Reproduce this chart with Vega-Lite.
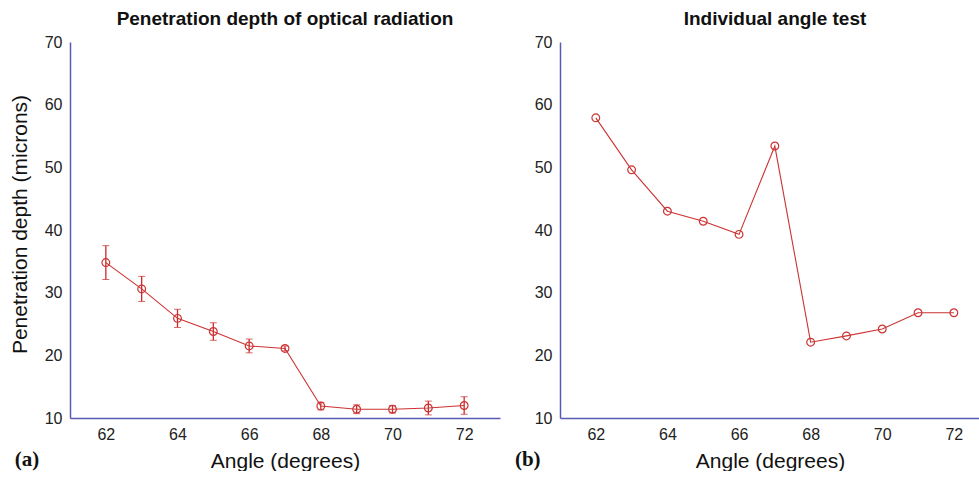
{
  "$schema": "https://vega.github.io/schema/vega-lite/v6.json",
  "background": "white",
  "padding": {"left": 9, "top": 10, "right": 0, "bottom": 0},
  "spacing": 14,
  "config": {
    "view": {"stroke": null},
    "font": "Liberation Sans",
    "axis": {
      "domainColor": "#5a5ab4",
      "domainWidth": 1.5,
      "ticks": false,
      "grid": false,
      "labelFont": "Liberation Sans",
      "labelFontSize": 16,
      "labelColor": "#222222",
      "labelPadding": 8,
      "titleFont": "Liberation Sans",
      "titleFontSize": 21,
      "titleFontWeight": "normal",
      "titleColor": "#111111"
    },
    "title": {"font": "Liberation Sans", "fontSize": 19, "fontWeight": "bold", "color": "#111111", "offset": 5}
  },
  "datasets": {
    "depth": [
      {"angle": 62, "depth": 34.8, "err": 2.7},
      {"angle": 63, "depth": 30.6, "err": 2.0},
      {"angle": 64, "depth": 25.9, "err": 1.45},
      {"angle": 65, "depth": 23.8, "err": 1.4},
      {"angle": 66, "depth": 21.5, "err": 1.1},
      {"angle": 67, "depth": 21.1, "err": 0.4},
      {"angle": 68, "depth": 11.9, "err": 0.6},
      {"angle": 69, "depth": 11.4, "err": 0.7},
      {"angle": 70, "depth": 11.4, "err": 0.6},
      {"angle": 71, "depth": 11.6, "err": 1.1},
      {"angle": 72, "depth": 12.0, "err": 1.4}
    ],
    "single": [
      {"angle": 62, "depth": 57.9},
      {"angle": 63, "depth": 49.6},
      {"angle": 64, "depth": 43.0},
      {"angle": 65, "depth": 41.4},
      {"angle": 66, "depth": 39.3},
      {"angle": 67, "depth": 53.4},
      {"angle": 68, "depth": 22.1},
      {"angle": 69, "depth": 23.1},
      {"angle": 70, "depth": 24.2},
      {"angle": 71, "depth": 26.8},
      {"angle": 72, "depth": 26.8}
    ],
    "labA": [{"lab": "(a)"}],
    "labB": [{"lab": "(b)"}]
  },
  "hconcat": [
    {
      "width": 430,
      "height": 376,
      "title": {"text": "Penetration depth of optical radiation"},
      "layer": [
        {
          "data": {"name": "depth"},
          "mark": {"type": "errorbar", "ticks": {"size": 7, "color": "#cc2a2a", "strokeWidth": 1.3}, "rule": {"color": "#cc2a2a", "strokeWidth": 1.3}},
          "encoding": {
            "x": {"field": "angle", "type": "quantitative", "title": "Angle (degrees)", "scale": {"domain": [61, 73], "nice": false, "zero": false}},
            "y": {"field": "depth", "type": "quantitative", "title": "Penetration depth (microns)", "scale": {"domain": [10, 70], "nice": false, "zero": false}},
            "yError": {"field": "err"}
          }
        },
        {
          "data": {"name": "depth"},
          "mark": {"type": "line", "color": "#cc3333", "strokeWidth": 1.1},
          "encoding": {
            "x": {"field": "angle", "type": "quantitative", "title": "Angle (degrees)", "scale": {"domain": [61, 73], "nice": false, "zero": false}, "axis": {"values": [62, 64, 66, 68, 70, 72], "titlePadding": 8}},
            "y": {"field": "depth", "type": "quantitative", "title": "Penetration depth (microns)", "scale": {"domain": [10, 70], "nice": false, "zero": false}, "axis": {"values": [10, 20, 30, 40, 50, 60, 70], "titlePadding": 14, "titleY": 182}}
          }
        },
        {
          "data": {"name": "depth"},
          "mark": {"type": "point", "shape": "circle", "filled": false, "color": "#cc3333", "size": 60, "strokeWidth": 1.2, "opacity": 1},
          "encoding": {
            "x": {"field": "angle", "type": "quantitative"},
            "y": {"field": "depth", "type": "quantitative"}
          }
        },
        {
          "data": {"name": "labA"},
          "mark": {"type": "text", "font": "Liberation Serif", "fontWeight": "bold", "fontSize": 21, "color": "#111111", "baseline": "middle", "align": "center"},
          "encoding": {
            "x": {"datum": 59.8, "type": "quantitative"},
            "y": {"datum": 3.3, "type": "quantitative"},
            "text": {"field": "lab"}
          }
        }
      ]
    },
    {
      "width": 420,
      "height": 376,
      "title": {"text": "Individual angle test", "dx": 5},
      "layer": [
        {
          "data": {"name": "single"},
          "mark": {"type": "line", "color": "#cc3333", "strokeWidth": 1.1},
          "encoding": {
            "x": {"field": "angle", "type": "quantitative", "title": "Angle (degrees)", "scale": {"domain": [61, 72.73], "nice": false, "zero": false}, "axis": {"values": [62, 64, 66, 68, 70, 72], "titlePadding": 8}},
            "y": {"field": "depth", "type": "quantitative", "scale": {"domain": [10, 70], "nice": false, "zero": false}, "axis": {"values": [10, 20, 30, 40, 50, 60, 70], "title": null}}
          }
        },
        {
          "data": {"name": "single"},
          "mark": {"type": "point", "shape": "circle", "filled": false, "color": "#cc3333", "size": 60, "strokeWidth": 1.2, "opacity": 1},
          "encoding": {
            "x": {"field": "angle", "type": "quantitative"},
            "y": {"field": "depth", "type": "quantitative"}
          }
        },
        {
          "data": {"name": "labB"},
          "mark": {"type": "text", "font": "Liberation Serif", "fontWeight": "bold", "fontSize": 21, "color": "#111111", "baseline": "middle", "align": "center"},
          "encoding": {
            "x": {"datum": 60.1, "type": "quantitative"},
            "y": {"datum": 3.3, "type": "quantitative"},
            "text": {"field": "lab"}
          }
        }
      ]
    }
  ]
}
